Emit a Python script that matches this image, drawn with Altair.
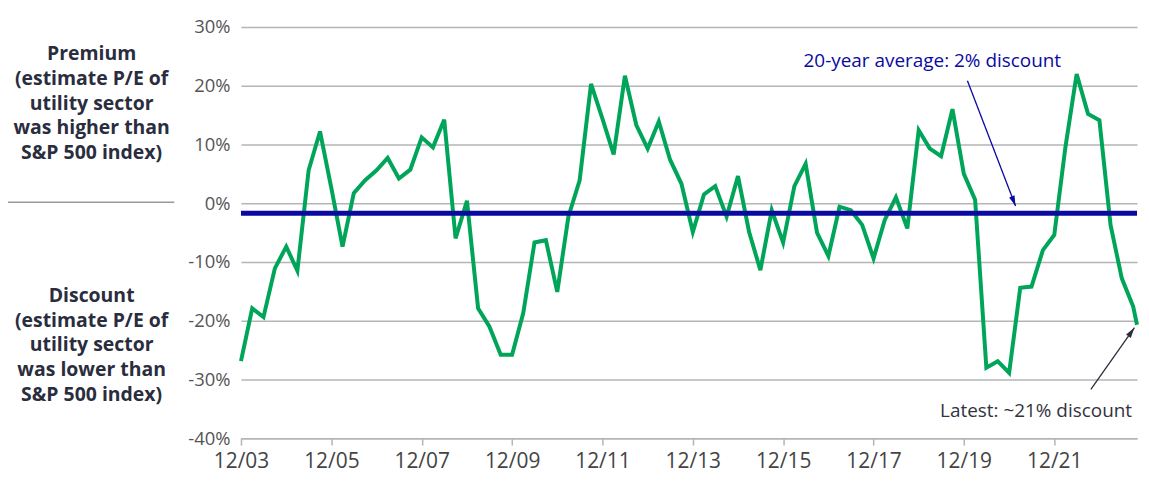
import altair as alt
import pandas as pd

# Utility sector forward P/E premium (+) / discount (-) vs S&P 500, quarterly, %
values = [
    -26.9, -17.9, -19.4, -11.1, -7.4, -11.5, 5.6, 12.2, 2.5, -7.4,
    1.7, 3.9, 5.6, 7.7, 4.2, 5.7, 11.2, 9.5, 14.2, -6.0,
    0.4, -17.9, -21.0, -25.8, -25.8, -18.7, -6.7, -6.3, -15.1, -2.3,
    3.9, 20.3, 14.4, 8.3, 21.7, 13.3, 9.3, 13.9, 7.4, 3.3,
    -4.9, 1.5, 2.9, -2.3, 4.6, -4.9, -11.4, -1.2, -6.7, 2.9,
    6.7, -5.0, -9.0, -0.6, -1.2, -3.7, -9.4, -2.9, 1.0, -4.3,
    12.4, 9.3, 8.0, 16.0, 5.0, 0.6, -28.0, -26.9, -28.9, -14.4,
    -14.2, -8.0, -5.4, 9.5, 22.0, 15.2, 14.1, -3.7, -12.8, -17.6,
    -20.7,
]
quarter_ends = ["03-31", "06-30", "09-30", "12-31"]
dates = ["2003-12-31"] + [f"{y}-{q}" for y in range(2004, 2024) for q in quarter_ends][:79] + ["2023-10-31"]

avg_value = -1.7
y_ticks = [-40, -30, -20, -10, 0, 10, 20, 30]
x_tick_years = [2003, 2005, 2007, 2009, 2011, 2013, 2015, 2017, 2019, 2021]

premium_lines = ["Premium", "(estimate P/E of", "utility sector", "was higher than", "S&P 500 index)"]
discount_lines = ["Discount", "(estimate P/E of", "utility sector", "was lower than", "S&P 500 index)"]

avg_label = "20-year average: 2% discount"
latest_label = "Latest: ~21% discount"

GREEN = "#00A55A"
BLUE = "#0A0AA0"
GRID = "#B5B5B5"
FONT = "Open Sans"

df = pd.DataFrame({"date": dates, "value": values})

x_scale = alt.Scale(
    type="utc",
    domain=[alt.DateTime(year=2003, month=12, date=31, utc=True),
            alt.DateTime(year=2023, month=10, date=31, utc=True)],
)
y_scale = alt.Scale(domain=[-40, 30], nice=False, zero=False)

x_enc = alt.X(
    "date:T", scale=x_scale, title=None,
    axis=alt.Axis(
        values=[alt.DateTime(year=y, month=12, date=31, utc=True) for y in x_tick_years],
        format="%m/%y", grid=False, domainColor=GRID, domainWidth=1.5,
        tickColor=GRID, tickWidth=1.5, tickSize=7, labelFontSize=21,
        labelColor="#444444", labelPadding=5, labelFont=FONT, labelFlush=False,
    ),
)
y_enc = alt.Y(
    "value:Q", scale=y_scale, title=None,
    axis=alt.Axis(
        values=y_ticks, labelExpr="datum.value + '%'", grid=True,
        gridColor=GRID, gridWidth=1.5, domain=False, ticks=False,
        labelFontSize=18.5, labelColor="#555555", labelPadding=11, labelFont=FONT,
    ),
)

line = alt.Chart(df).mark_line(color=GREEN, strokeWidth=4).encode(x=x_enc, y=y_enc)

avg_rule = alt.Chart(pd.DataFrame({"v": [avg_value]})).mark_rule(
    color=BLUE, strokeWidth=5
).encode(y=alt.Y("v:Q", scale=y_scale))

# annotation arrows (data coordinates)
arrows = pd.DataFrame({
    "x": ["2020-01-29", "2022-10-23"],
    "y": [20.85, -31.7],
    "x2": ["2021-02-21", "2023-10-10"],
    "y2": [-0.5, -21.2],
    "c": [BLUE, "#2B2D3C"],
    "ang": [159, 35],
})
arrow_lines = alt.Chart(arrows).mark_rule(strokeWidth=1.3).encode(
    x=alt.X("x:T", scale=x_scale), y=alt.Y("y:Q", scale=y_scale),
    x2="x2:T", y2="y2:Q", color=alt.Color("c:N", scale=None),
)
arrow_heads = alt.Chart(arrows).mark_point(
    shape="M0,0L0.55,2L-0.55,2Z", filled=True, size=110, opacity=1, strokeWidth=0
).encode(
    x=alt.X("x2:T", scale=x_scale), y=alt.Y("y2:Q", scale=y_scale),
    color=alt.Color("c:N", scale=None), angle=alt.Angle("ang:Q", scale=None),
)

avg_text = alt.Chart(pd.DataFrame({"x": ["2016-06-13"], "y": [24.2], "t": [avg_label]})).mark_text(
    align="left", baseline="middle", fontSize=19, color=BLUE, font=FONT
).encode(x=alt.X("x:T", scale=x_scale), y=alt.Y("y:Q", scale=y_scale), text="t:N")

latest_text = alt.Chart(pd.DataFrame({"x": ["2023-09-21"], "y": [-35.4], "t": [latest_label]})).mark_text(
    align="right", baseline="middle", fontSize=19, color="#333340", font=FONT
).encode(x=alt.X("x:T", scale=x_scale), y=alt.Y("y:Q", scale=y_scale), text="t:N")

one = pd.DataFrame({"a": [0]})
premium = alt.Chart(one).mark_text(
    text=premium_lines, align="center", baseline="middle", fontSize=19.5,
    fontWeight="bold", color="#2A2D3E", lineHeight=25, font=FONT
).encode(x=alt.value(-150), y=alt.value(27))
discount = alt.Chart(one).mark_text(
    text=discount_lines, align="center", baseline="middle", fontSize=19.5,
    fontWeight="bold", color="#2A2D3E", lineHeight=25, font=FONT
).encode(x=alt.value(-150), y=alt.value(270))
separator = alt.Chart(one).mark_rule(color="#9A9A9A", strokeWidth=1.5).encode(
    x=alt.value(-234), x2=alt.value(-67), y=alt.value(176)
)

chart = alt.layer(
    line, avg_rule, arrow_lines, arrow_heads, avg_text, latest_text,
    premium, discount, separator,
).properties(
    width=900, height=413,
    autosize=alt.AutoSizeParams(type="none"),
    padding={"left": 234, "top": 18, "right": 4, "bottom": 36},
).configure_view(stroke=None)

chart.save("out.html", embed_options={"renderer": "svg", "actions": False})
